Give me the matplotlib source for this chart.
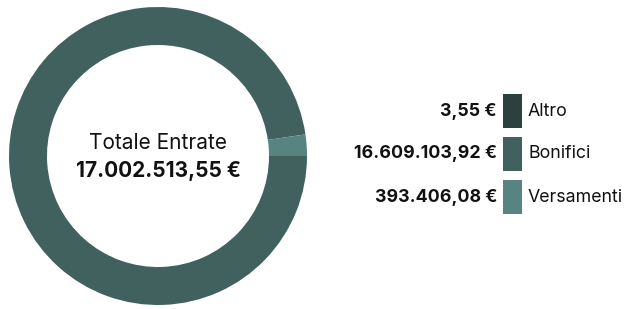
import matplotlib.pyplot as plt
from matplotlib.patches import Rectangle

plt.rcParams.update({'font.family': ['Inter', 'DejaVu Sans']})

# data
categorie = ['Altro', 'Bonifici', 'Versamenti']
valori = [3.55, 16609103.92, 393406.08]
etichette_valori = ['3,55 €', '16.609.103,92 €', '393.406,08 €']
totale_label = '17.002.513,55 €'
colori = ['#2c403d', '#40615e', '#578480']

W, H = 627, 309
fig = plt.figure(figsize=(W/100, H/100), dpi=100)

# donut
cx, cy, r = 158, 156, 149
ax = fig.add_axes([(cx - r)/W, (H - cy - r)/H, 2*r/W, 2*r/H])
ax.pie(valori, colors=colori, startangle=0, counterclock=False,
       wedgeprops=dict(width=38/149, edgecolor='none'))
ax.set_xlim(-1, 1)
ax.set_ylim(-1, 1)
ax.set_aspect('equal')
ax.axis('off')
ax.text(0, 0.087, 'Totale Entrate', ha='center', va='center', fontsize=15, color='#111111')
ax.text(0, -0.10, totale_label, ha='center', va='center', fontsize=15,
        fontweight='bold', color='#111111')

# legenda
lax = fig.add_axes([0, 0, 1, 1])
lax.set_xlim(0, W)
lax.set_ylim(H, 0)
lax.axis('off')
y0, step = 111, 43
for i, (cat, lab, col) in enumerate(zip(categorie, etichette_valori, colori)):
    y = y0 + i*step
    lax.add_patch(Rectangle((503, y - 17), 19, 34, color=col, lw=0))
    lax.text(497, y, lab, ha='right', va='center', fontsize=12.8,
             fontweight='bold', color='#111111')
    lax.text(528, y, cat, ha='left', va='center', fontsize=12.8, color='#111111')

fig.savefig('out.png', dpi=100)
